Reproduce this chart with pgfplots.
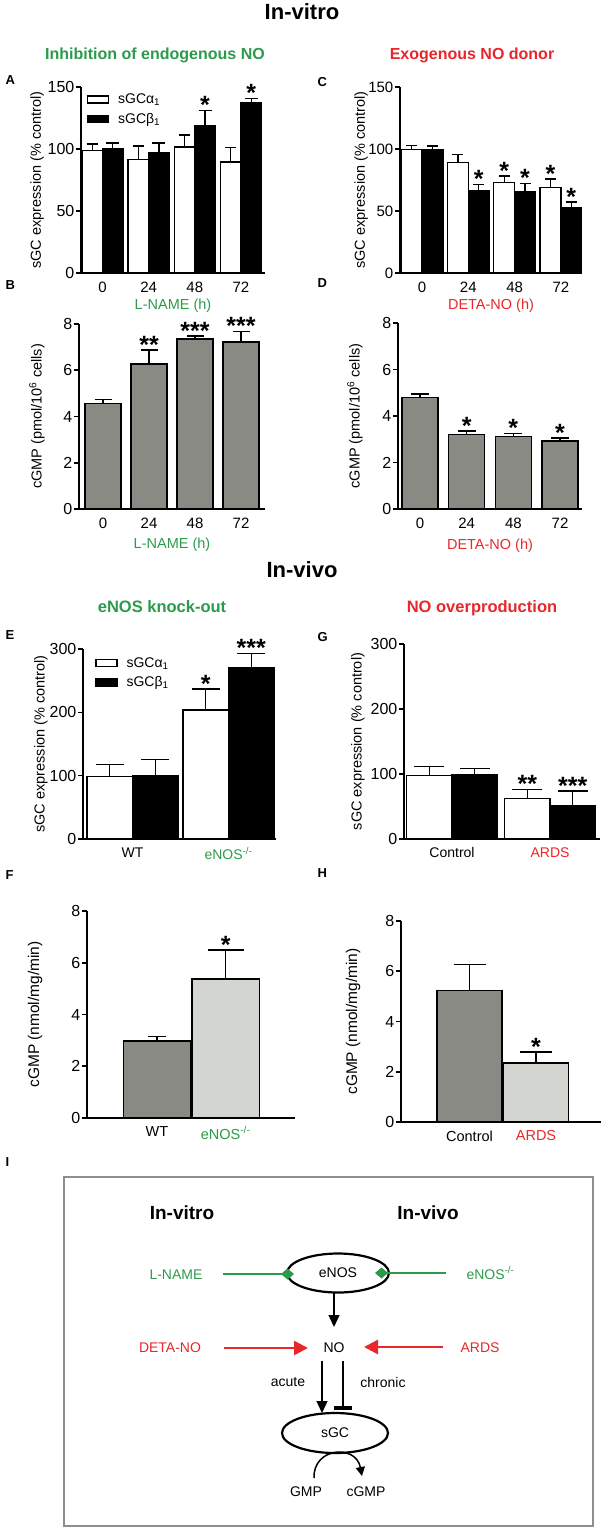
\documentclass[border=0pt]{standalone}
\usepackage{fontspec}
\setmainfont{Liberation Sans}
\usepackage{pgfplots}
\pgfplotsset{compat=1.18}
\usetikzlibrary{arrows.meta}

\definecolor{gGreen}{HTML}{2C9A4B}
\definecolor{rRed}{HTML}{E8262B}
\definecolor{dGray}{HTML}{8A8A84}
\definecolor{lGray}{HTML}{D3D5D0}
\definecolor{frameGray}{HTML}{8E8E8E}
\newcommand{\fs}[1]{\fontsize{#1}{#1}\selectfont}

\pgfplotsset{
  gp/.style={
    scale only axis, anchor=south west, clip=false,
    axis lines*=left,
    axis line style={line width=1.6pt},
    every tick/.style={black, line width=1.6pt},
    tick align=outside,
    major tick length=5pt,
    xtick style={draw=none},
    ymin=0,
    yticklabel style={font=\fs{16}, inner sep=1.5pt},
    xticklabel style={font=\fs{15}},
    /pgf/number format/assume math mode=true,
    label style={font=\fs{14.5}},
  },
  bars/.style n args={2}{ybar, bar shift=0pt, fill=#1, draw=black, line width=1.4pt,
    error bars/y dir=plus, error bars/y explicit,
    error bars/error bar style={line width=1.4pt, black, solid},
    error bars/error mark options={line width=1.4pt, black, mark size=#2, rotate=90}},
  stars/.style={only marks, mark=none, forget plot,
    point meta=explicit symbolic,
    nodes near coords={\pgfplotspointmeta},
    every node near coord/.style={font=\fs{25}\bfseries, anchor=south, inner sep=0pt, yshift=-3.5pt}},
  boxleg/.style={legend image code/.code={\draw[fill=#1, line width=1.4pt] (0pt,-3.5pt) rectangle (21pt,3.5pt);}},
}

\begin{document}
\begin{tikzpicture}
\path[use as bounding box] (0pt,0pt) rectangle (604pt,-1527pt);

% titles and panel letters
\begin{scope}[x=1pt, y=-1pt]
\node[font=\fs{22}\bfseries] at (302,12) {In-vitro};
\node[font=\fs{22}\bfseries] at (302,570) {In-vivo};
\node[font=\fs{16}\bfseries, text=gGreen] at (155,55) {Inhibition of endogenous NO};
\node[font=\fs{16}\bfseries, text=rRed] at (472,55) {Exogenous NO donor};
\node[font=\fs{16.5}\bfseries, text=gGreen] at (162,607) {eNOS knock-out};
\node[font=\fs{16.5}\bfseries, text=rRed] at (482,608) {NO overproduction};
\foreach \l/\x/\y in {A/2/80, B/2/285, C/314/82, D/314/283, E/2/635, F/2/875, G/314/637, H/314/873, I/2/1162}
  \node[font=\fs{13}\bfseries, anchor=west] at (\x,\y) {\l};
\end{scope}

% A
\begin{axis}[gp, at={(81pt,-273pt)}, width=184pt, height=186pt,
  xmin=-0.465, xmax=3.52, ymax=150, ytick={0,50,100,150},
  xtick={0,1,2,3}, xticklabels={0,24,48,72}, bar width=0.443,
  ylabel={sGC expression (\% control)},
  ylabel style={at={(axis description cs:-0.239,0.5)}, anchor=center},
  xlabel={\textcolor{gGreen}{L-NAME (h)}},
  xlabel style={at={(axis description cs:0.5,-0.177)}, anchor=center},
  legend style={at={(axis description cs:0.03,0.975)}, anchor=north west, draw=none, fill=none,
    font=\fs{14}, row sep=4pt, column sep=7pt, inner sep=0pt},
  legend cell align=left]
\addplot[boxleg=white, bars={white}{5.5pt}] coordinates {(-0.222,99) +- (0,5) (0.778,91.7) +- (0,10.8) (1.778,101.7) +- (0,9.5) (2.778,89.6) +- (0,11.4)};
\addlegendentry{sGCα\textsubscript{1}}
\addplot[boxleg=black, bars={black}{6.5pt}] coordinates {(0.222,100) +- (0,5) (1.222,97) +- (0,8) (2.222,118.7) +- (0,12.3) (3.222,137.3) +- (0,3.5)};
\addlegendentry{sGCβ\textsubscript{1}}
\addplot[stars] coordinates {(2.222,131)[*] (3.222,140.8)[*]};
\end{axis}

% C
\begin{axis}[gp, at={(400pt,-273pt)}, width=182pt, height=186pt,
  xmin=-0.475, xmax=3.455, ymax=150, ytick={0,50,100,150},
  xtick={0,1,2,3}, xticklabels={0,24,48,72}, bar width=0.45,
  yticklabel style={font=\fs{15}},
  ylabel={sGC expression (\% control)},
  ylabel style={at={(axis description cs:-0.213,0.5)}, anchor=center},
  xlabel={\textcolor{rRed}{DETA-NO (h)}},
  xlabel style={at={(axis description cs:0.5,-0.177)}, anchor=center}]
\addplot[bars={white}{5.5pt}] coordinates {(-0.225,99.5) +- (0,3.5) (0.775,89.3) +- (0,6.5) (1.775,72.8) +- (0,5.4) (2.775,69) +- (0,6.8)};
\addplot[bars={black}{5.5pt}] coordinates {(0.225,99.5) +- (0,3) (1.225,66.4) +- (0,5.1) (2.225,65.3) +- (0,7) (3.225,52.3) +- (0,4.9)};
\addplot[stars] coordinates {(1.225,71.5)[*] (1.775,78.2)[*] (2.225,72.3)[*] (2.775,75.8)[*] (3.225,57.2)[*]};
\end{axis}

% B
\begin{axis}[gp, at={(79pt,-509pt)}, width=186pt, height=185pt,
  xmin=-0.522, xmax=3.52, ymax=8, ytick={0,2,4,6,8},
  xtick={0,1,2,3}, xticklabels={0,24,48,72}, bar width=0.78,
  ylabel={cGMP (pmol/10\textsuperscript{6} cells)},
  ylabel style={at={(axis description cs:-0.226,0.5)}, anchor=center},
  xlabel={\textcolor{gGreen}{L-NAME (h)}},
  xlabel style={at={(axis description cs:0.5,-0.194)}, anchor=center}]
\addplot[bars={dGray}{8.5pt}] coordinates {(0,4.55) +- (0,0.18) (1,6.27) +- (0,0.6) (2,7.35) +- (0,0.14) (3,7.22) +- (0,0.46)};
\addplot[stars] coordinates {(1,6.87)[**] (2,7.49)[***] (3,7.68)[***]};
\end{axis}

% D
\begin{axis}[gp, at={(398pt,-509pt)}, width=184pt, height=186pt,
  xmin=-0.471, xmax=3.471, ymax=8, ytick={0,2,4,6,8},
  xtick={0,1,2,3}, xticklabels={0,24,48,72}, bar width=0.77,
  ylabel={cGMP (pmol/10\textsuperscript{6} cells)},
  ylabel style={at={(axis description cs:-0.234,0.5)}, anchor=center},
  xlabel={\textcolor{rRed}{DETA-NO (h)}},
  xlabel style={at={(axis description cs:0.5,-0.199)}, anchor=center}]
\addplot[bars={dGray}{9pt}] coordinates {(0,4.79) +- (0,0.15) (1,3.21) +- (0,0.14) (2,3.12) +- (0,0.13) (3,2.92) +- (0,0.13)};
\addplot[stars] coordinates {(1,3.35)[*] (2,3.25)[*] (3,3.05)[*]};
\end{axis}

% E
\begin{axis}[gp, at={(83pt,-839pt)}, width=193pt, height=190pt,
  xmin=-0.516, xmax=1.495, ymax=300, ytick={0,100,200,300},
  xtick={0,1}, xticklabels={WT, \textcolor{gGreen}{eNOS\textsuperscript{-/-}}}, bar width=0.474,
  xticklabel style={font=\fs{14}},
  ylabel={sGC expression (\% control)},
  ylabel style={at={(axis description cs:-0.218,0.5)}, anchor=center},
  legend style={at={(axis description cs:0.062,0.968)}, anchor=north west, draw=none, fill=none,
    font=\fs{14}, row sep=4pt, column sep=7pt, inner sep=0pt},
  legend cell align=left]
\addplot[boxleg=white, bars={white}{14pt}] coordinates {(-0.237,99) +- (0,19) (0.763,204) +- (0,33)};
\addlegendentry{sGCα\textsubscript{1}}
\addplot[boxleg=black, bars={black}{14pt}] coordinates {(0.237,100) +- (0,26) (1.237,271) +- (0,22)};
\addlegendentry{sGCβ\textsubscript{1}}
\addplot[stars] coordinates {(0.763,237)[*] (1.237,293)[***]};
\end{axis}

% G
\begin{axis}[gp, at={(404pt,-839pt)}, width=196pt, height=195pt,
  xmin=-0.49, xmax=1.51, ymax=300, ytick={0,100,200,300},
  xtick={0,1}, xticklabels={Control, \textcolor{rRed}{ARDS}}, bar width=0.464,
  xticklabel style={font=\fs{14}},
  ylabel={sGC expression (\% control)},
  ylabel style={at={(axis description cs:-0.235,0.5)}, anchor=center}]
\addplot[bars={white}{15pt}] coordinates {(-0.232,98) +- (0,14) (0.768,62) +- (0,14)};
\addplot[bars={black}{15pt}] coordinates {(0.232,99) +- (0,9.4) (1.232,51.4) +- (0,22.6)};
\addplot[stars] coordinates {(0.768,76)[**] (1.232,74)[***]};
\end{axis}

% F
\begin{axis}[gp, at={(87pt,-1118pt)}, width=208pt, height=207pt,
  xmin=-1.02, xmax=2.01, ymax=8, ytick={0,2,4,6,8},
  xtick={0,1}, xticklabels={WT, \textcolor{gGreen}{eNOS\textsuperscript{-/-}}}, bar width=0.978,
  xticklabel style={font=\fs{14.5}},
  ylabel={cGMP (nmol/mg/min)}, label style={font=\fs{15.5}},
  ylabel style={at={(axis description cs:-0.25,0.5)}, anchor=center}]
\addplot[bars={dGray}{9pt}] coordinates {(0,2.97) +- (0,0.19)};
\addplot[bars={lGray}{18pt}] coordinates {(1,5.37) +- (0,1.13)};
\addplot[stars] coordinates {(1,6.5)[*]};
\end{axis}

% H
\begin{axis}[gp, at={(401pt,-1122pt)}, width=200pt, height=201pt,
  xmin=-1.03, xmax=1.977, ymax=8, ytick={0,2,4,6,8},
  xtick={0,1}, xticklabels={Control, \textcolor{rRed}{ARDS}}, bar width=0.977,
  xticklabel style={font=\fs{14.5}},
  ylabel={cGMP (nmol/mg/min)}, label style={font=\fs{15.5}},
  ylabel style={at={(axis description cs:-0.24,0.5)}, anchor=center}]
\addplot[bars={dGray}{16pt}] coordinates {(0,5.24) +- (0,1.02)};
\addplot[bars={lGray}{16pt}] coordinates {(1,2.35) +- (0,0.44)};
\addplot[stars] coordinates {(1,2.79)[*]};
\end{axis}

% I: scheme
\begin{scope}[x=1pt, y=-1pt]
\draw[frameGray, line width=1.8pt] (64,1177) rectangle (593,1526);
\node[font=\fs{19}\bfseries] at (182,1213) {In-vitro};
\node[font=\fs{19}\bfseries] at (428,1213) {In-vivo};
\draw[line width=2.2pt] (338,1273) ellipse [x radius=51, y radius=19.5];
\node[font=\fs{14}] at (338,1273) {eNOS};
\node[font=\fs{14}, text=gGreen] at (176,1275) {L-NAME};
\draw[gGreen, line width=2.6pt, -{Diamond[length=13pt,width=11pt]}] (223,1274) -- (294,1274);
\draw[gGreen, line width=2.6pt, -{Diamond[length=13pt,width=11pt]}] (446,1273) -- (375,1273);
\node[font=\fs{14}, text=gGreen, anchor=west] at (463,1273) {eNOS\textsuperscript{-/-}};
\draw[line width=1.3pt, -{Triangle[length=12pt,width=11pt]}] (334,1293) -- (334,1327);
\node[font=\fs{14}] at (334,1348) {NO};
\node[font=\fs{14}, text=rRed] at (170,1348) {DETA-NO};
\draw[rRed, line width=2.7pt, -{Triangle[length=14pt,width=14pt]}] (224,1348) -- (308,1348);
\draw[rRed, line width=2.7pt, -{Triangle[length=14pt,width=14pt]}] (443,1347) -- (364,1347);
\node[font=\fs{14}, text=rRed] at (480,1348) {ARDS};
\node[font=\fs{14}] at (288,1382) {acute};
\node[font=\fs{14}] at (383,1382) {chronic};
\draw[line width=1.3pt, -{Triangle[length=12pt,width=11pt]}] (322,1361) -- (322,1413);
\draw[line width=2.5pt] (343,1361) -- (343,1406);
\draw[line width=4pt] (334,1408) -- (352,1408);
\draw[line width=2.2pt] (335,1433) ellipse [x radius=53, y radius=20];
\node[font=\fs{14}] at (335,1433) {sGC};
\draw[line width=1.5pt, -{Triangle[length=9pt,width=9pt]}] (314,1478) .. controls (313,1447) and (356,1444) .. (362,1476);
\node[font=\fs{14}] at (306,1492) {GMP};
\node[font=\fs{14}] at (366,1492) {cGMP};
\end{scope}
\end{tikzpicture}
\end{document}
